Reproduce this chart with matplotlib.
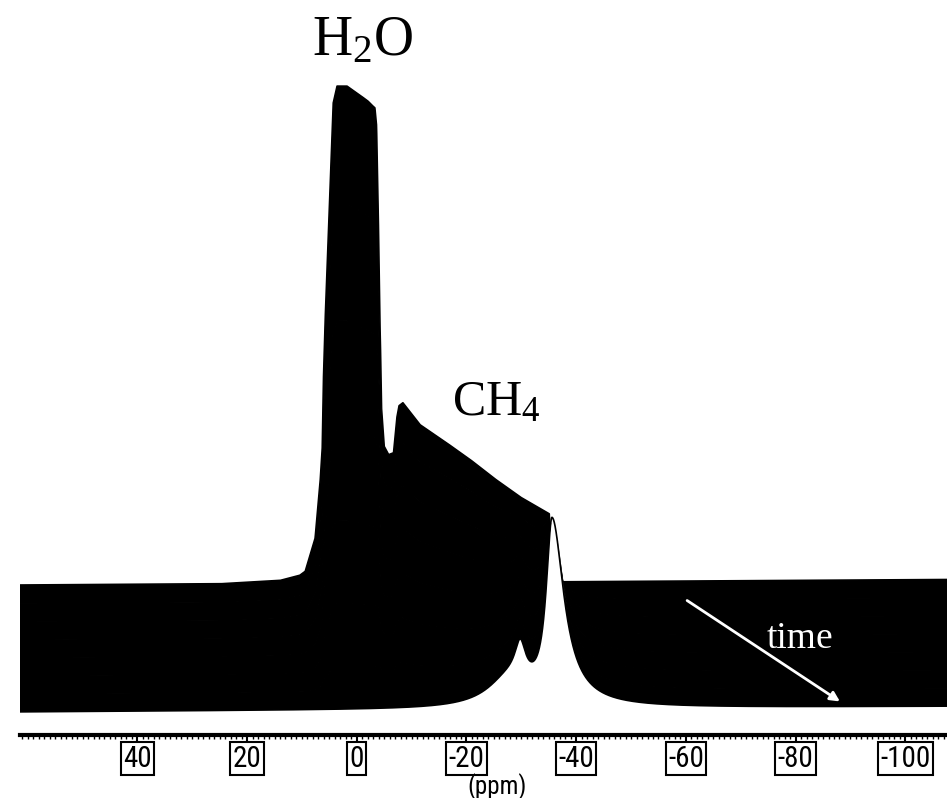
import numpy as np
import matplotlib
matplotlib.use("Agg")
import matplotlib.pyplot as plt

plt.rcParams['mathtext.fontset']='custom'
plt.rcParams['mathtext.rm']='Liberation Serif'
plt.rcParams['mathtext.it']='Liberation Serif:italic'

# x axis (ppm, decreasing to the right)
tick_ppm=[40,20,0,-20,-40,-60,-80,-100]
tick_txt=['40','20','0','-20','-40','-60','-80','-100']

# H2O line of the earliest (back) spectrum
h2o_ppm=[25.0,14.0,10.4,9.4,7.6,6.7,6.3,6.1,5.8,4.9,4.3,3.6,1.8,0.0,-2.0,-2.7,-3.3,-3.6,-3.9,-4.2,-4.5,-5.0,-5.8]
h2o_hgt=[0,3,8,12,45,100,135,200,258,392,480,497,497,490,482,478,475,420,300,150,50,10,0]

# broad CH4 band of the back spectrum
band_ppm=[-3.3,-4.3,-6.7,-7.3,-7.7,-8.4,-11.5,-16.0,-20.6,-25.0,-29.8,-35.1,-35.4]
band_hgt=[0,125,130,165,177,180,158,141,123,104,85,68,0]

# narrow CH4 lines of the latest (front) spectrum
ch4_ppm,ch4_wl,ch4_wr=-35.6,1.3,2.6
side_ppm,side_w=-29.8,1.2
broad_ppm,broad_w=-28.0,5.0

# one entry per spectrum, back (first) -> front (last)
h2o_scale =[1.00,0.80,0.60,0.42,0.27,0.14,0.05,0.00]
band_scale=[1.00,0.88,0.74,0.60,0.45,0.30,0.15,0.00]
ch4_hgt   =[0,25,50,78,105,132,158,181]
side_hgt  =[0,5,10,15,20,25,30,35]
broad_hgt =[0,4,8,13,17,21,26,30]

xmin,xmax=61.4,-107.6
stack=127.0   # vertical distance back -> front baseline
drift=5.5

def lor(x,c,w):
    return 1.0/(1.0+((x-c)/w)**2)

x=np.linspace(xmin,xmax,8000)
h2o=np.interp(x,h2o_ppm[::-1],h2o_hgt[::-1],left=0,right=0)
band=np.interp(x,band_ppm[::-1],band_hgt[::-1],left=0,right=0)
ch4=np.where(x>ch4_ppm,lor(x,ch4_ppm,ch4_wl),lor(x,ch4_ppm,ch4_wr))
side=lor(x,side_ppm,side_w)
broad=lor(x,broad_ppm,broad_w)
base=drift*(xmin-x)/(xmin-xmax)

n=len(h2o_scale)
lines=[]
for k in range(n):
    off=stack*(1-k/(n-1))
    y=off+base+h2o_scale[k]*h2o+band_scale[k]*band+ch4_hgt[k]*ch4+side_hgt[k]*side+broad_hgt[k]*broad
    lines.append(y)

fig=plt.figure(figsize=(9.47,7.98),dpi=100)
ax=fig.add_axes([20/947,63/798,927/947,735/798])
ax.set_xlim(xmin,xmax)
ax.set_ylim(-23,712)

# hidden-line stack: each spectrum hides what lies behind and below it
for k in range(n):
    z=2+2*k
    ax.fill_between(x,-12,lines[k],color='white',lw=0,zorder=z)
    if k>0:
        ax.fill_between(x,lines[k],lines[k-1],where=lines[k-1]>lines[k],
                        interpolate=True,color='black',lw=0,zorder=z+1)
    ax.plot(x,lines[k],color='black',lw=1.2,zorder=z+1)

sans=['Roboto Condensed','Liberation Sans Narrow','Liberation Sans']
for s in ['top','left','right']:
    ax.spines[s].set_visible(False)
ax.spines['bottom'].set_linewidth(3)
ax.set_yticks([])
ax.set_xticks(tick_ppm,tick_txt)
ax.set_xticks(np.arange(-107,62,1),minor=True)
ax.tick_params(axis='x',which='major',length=4,width=1.5,pad=3)
ax.tick_params(axis='x',which='minor',length=3,width=1)
for lbl in ax.get_xticklabels():
    lbl.set_fontfamily(sans)
    lbl.set_fontstretch('condensed')
    lbl.set_fontsize(21)
    lbl.set_bbox(dict(boxstyle='square,pad=0.08',fc='white',ec='black',lw=1.5))
ax.set_xlabel('(ppm)',family=sans,fontsize=18,va='top')
ax.xaxis.set_label_coords((497-20)/927,-38/735)

ax.text(8.2,657,'H$_2$O',family='Liberation Serif',fontsize=40,ha='left',va='baseline',zorder=50)
ax.text(-17.4,297,'CH$_4$',family='Liberation Serif',fontsize=36,ha='left',va='baseline',zorder=50)
ax.text(-74.8,64,'time',family='Liberation Serif',fontsize=27,color='white',ha='left',va='baseline',zorder=50)
ax.annotate('',xy=(-88.5,9),xytext=(-59.8,113),
            arrowprops=dict(arrowstyle='-|>',color='white',lw=2,mutation_scale=14),zorder=50)

fig.savefig('out.png',dpi=100)
